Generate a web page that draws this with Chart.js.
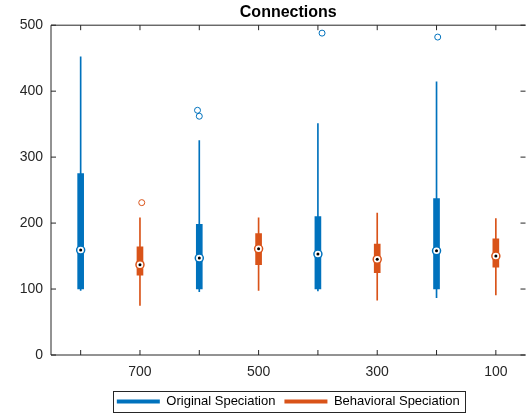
<!DOCTYPE html>
<html>
<head>
<meta charset="utf-8">
<script src="https://cdn.jsdelivr.net/npm/chart.js@4.4.1/dist/chart.umd.min.js"></script>
<style>
  html, body { margin: 0; padding: 0; background: #fff; overflow: hidden; }
  #wrap { width: 527px; height: 419px; overflow: hidden; position: relative; }
  canvas { display: block; }
</style>
</head>
<body>
<div id="wrap"><canvas id="chart" width="531" height="419"></canvas></div>
<script>
// x positions 1..8, only the even ones carry a label
const xTickLabels = ['', '700', '', '500', '', '300', '', '100'];
const yTicks = [0, 100, 200, 300, 400, 500];
const seriesNames = ['Original Speciation', 'Behavioral Speciation'];

// Original Speciation (odd positions)
const origPos = [1, 3, 5, 7];
const origMin = [98, 96, 97, 87];
const origQ1 = [100, 100, 100, 100];
const origMedian = [159, 147, 153, 158];
const origQ3 = [275, 198, 210, 237];
const origMax = [452, 325, 351, 414];
const origOutliers = [{ x: 2.97, y: 371 }, { x: 3.0, y: 362 }, { x: 5.07, y: 488 }, { x: 7.02, y: 482 }];

// Behavioral Speciation (even positions)
const behPos = [2, 4, 6, 8];
const behMin = [75, 98, 83, 91];
const behQ1 = [121, 137, 125, 133];
const behMedian = [137, 161, 145, 150];
const behQ3 = [164, 184, 168, 176];
const behMax = [208, 208, 215, 207];
const behOutliers = [{ x: 2.03, y: 231 }];

const BLUE = '#0072BD';
const ORANGE = '#D95319';
const AXIS = '#262626';
const FONT = 'Liberation Sans, Arial, Helvetica, sans-serif';

const boxes = (pos, lo, hi) => pos.map((x, i) => ({ x: x, y: [lo[i], hi[i]] }));
const points = (pos, v) => pos.map((x, i) => ({ x: x, y: v[i] }));

// axes box with inward ticks, like the original figure
const axesBox = {
    id: 'axesBox',
    afterDatasetsDraw(chart) {
        const { ctx, chartArea: a, scales: { x, y } } = chart;
        const t = 5;
        ctx.save();
        ctx.strokeStyle = AXIS;
        ctx.lineWidth = 1;
        ctx.beginPath();
        ctx.moveTo(a.right, a.top); ctx.lineTo(a.left, a.top);
        ctx.lineTo(a.left, a.bottom); ctx.lineTo(a.right, a.bottom);
        x.ticks.forEach(tk => {
            const px = x.getPixelForValue(tk.value);
            ctx.moveTo(px, a.bottom); ctx.lineTo(px, a.bottom - t);
            ctx.moveTo(px, a.top); ctx.lineTo(px, a.top + t);
        });
        y.ticks.forEach(tk => {
            const py = y.getPixelForValue(tk.value);
            ctx.moveTo(a.left, py); ctx.lineTo(a.left + t, py);
            ctx.moveTo(a.right, py); ctx.lineTo(a.right - t, py);
        });
        ctx.stroke();
        ctx.restore();
    },
    afterDraw(chart) {
        // frame round the legend
        const hb = chart.legend && chart.legend.legendHitBoxes;
        if (!hb || !hb.length) return;
        const first = hb[0], last = hb[hb.length - 1];
        const ctx = chart.ctx;
        ctx.save();
        ctx.strokeStyle = AXIS;
        ctx.lineWidth = 1;
        const l = Math.round(first.left - 4) + 0.5;
        const r = Math.round(last.left + last.width + 5) + 0.5;
        const tp = Math.round(first.top - 4) + 0.5;
        const bt = Math.round(first.top + first.height + 4) + 0.5;
        ctx.strokeRect(l, tp, r - l, bt - tp);
        ctx.restore();
    }
};

new Chart(document.getElementById('chart'), {
    type: 'bar',
    data: {
        datasets: [
            {
                label: seriesNames[0],
                data: boxes(origPos, origQ1, origQ3),
                backgroundColor: BLUE, borderWidth: 0,
                barThickness: 6, grouped: false, order: 2
            },
            {
                label: seriesNames[1],
                data: boxes(behPos, behQ1, behQ3),
                backgroundColor: ORANGE, borderWidth: 0,
                barThickness: 6, grouped: false, order: 2
            },
            {
                label: 'whisk1',
                data: boxes(origPos, origMin, origMax),
                backgroundColor: BLUE, borderWidth: 0,
                barThickness: 1, grouped: false, order: 3
            },
            {
                label: 'whisk2',
                data: boxes(behPos, behMin, behMax),
                backgroundColor: ORANGE, borderWidth: 0,
                barThickness: 1, grouped: false, order: 3
            },
            {
                type: 'scatter', label: 'med1',
                data: points(origPos, origMedian),
                pointRadius: 4, borderWidth: 1.5,
                borderColor: BLUE, backgroundColor: '#fff', order: 1
            },
            {
                type: 'scatter', label: 'med2',
                data: points(behPos, behMedian),
                pointRadius: 4, borderWidth: 1.5,
                borderColor: ORANGE, backgroundColor: '#fff', order: 1
            },
            {
                type: 'scatter', label: 'dots',
                data: points(origPos, origMedian).concat(points(behPos, behMedian)),
                pointRadius: 1.5, borderWidth: 0,
                backgroundColor: '#000', order: 0
            },
            {
                type: 'scatter', label: 'out1',
                data: origOutliers,
                pointRadius: 3, borderWidth: 1,
                borderColor: BLUE, backgroundColor: 'rgba(0,0,0,0)', order: 0
            },
            {
                type: 'scatter', label: 'out2',
                data: behOutliers,
                pointRadius: 3, borderWidth: 1,
                borderColor: ORANGE, backgroundColor: 'rgba(0,0,0,0)', order: 0
            }
        ]
    },
    options: {
        responsive: false,
        animation: false,
        events: [],
        layout: { padding: { right: 2.5, bottom: 1 } },
        scales: {
            x: {
                type: 'linear',
                offset: false,
                min: 0.5, max: 8.5,
                afterBuildTicks: s => { s.ticks = xTickLabels.map((_, i) => ({ value: i + 1 })); },
                afterFit: s => { s.height = 31; },
                grid: { display: false, drawTicks: false, offset: false },
                border: { display: false },
                ticks: {
                    autoSkip: false, maxRotation: 0, padding: 9,
                    color: AXIS, font: { family: FONT, size: 14 },
                    callback: v => xTickLabels[Math.round(v) - 1]
                }
            },
            y: {
                min: 0, max: 500,
                afterBuildTicks: s => { s.ticks = yTicks.map(v => ({ value: v })); },
                afterFit: s => { s.width = 51; },
                grid: { display: false, drawTicks: false },
                border: { display: false },
                ticks: {
                    padding: 8,
                    color: AXIS, font: { family: FONT, size: 14 }
                }
            }
        },
        plugins: {
            title: {
                display: true, text: 'Connections', fullSize: false,
                color: '#000', font: { family: FONT, size: 16, weight: 'bold' },
                padding: { top: 3, bottom: 3 }
            },
            legend: {
                position: 'bottom', fullSize: false,
                labels: {
                    color: '#000', font: { family: FONT, size: 13 },
                    boxWidth: 43, boxHeight: 4, padding: 9,
                    filter: item => item.datasetIndex < 2
                }
            },
            tooltip: { enabled: false }
        }
    },
    plugins: [axesBox]
});
</script>
</body>
</html>
